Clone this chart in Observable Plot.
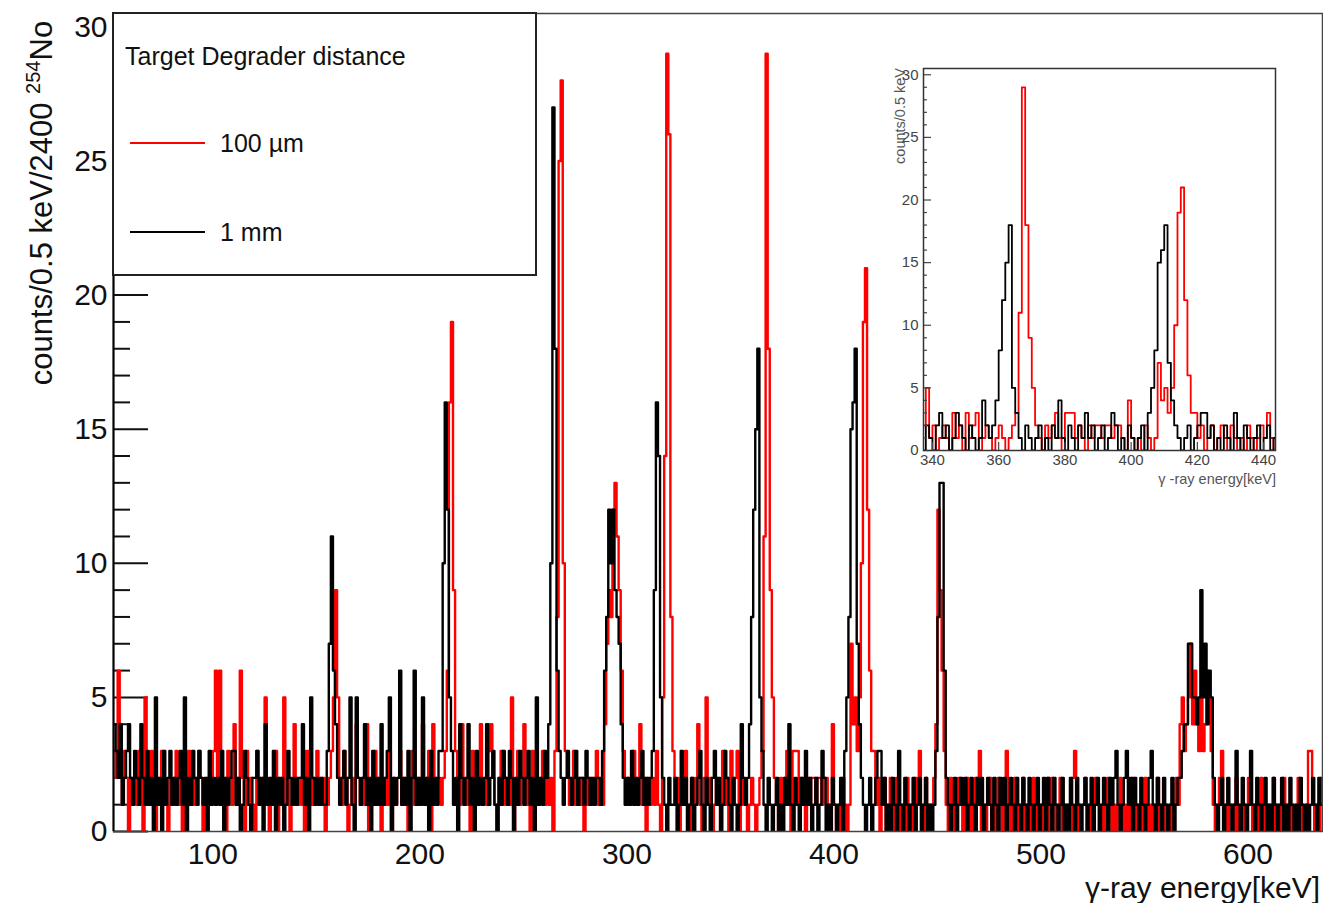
<!DOCTYPE html>
<html><head><meta charset="utf-8">
<script src="https://cdn.jsdelivr.net/npm/d3@7"></script>
<script src="https://cdn.jsdelivr.net/npm/@observablehq/plot@0.6"></script>
<style>
html,body{margin:0;padding:0;background:#fff;}
#chart{position:relative;width:1323px;height:903px;overflow:hidden;font-family:"Liberation Sans",Arial,sans-serif;}
#chart svg{position:absolute;}
</style></head><body><div id="chart"></div>
<script>
// ---- data (counts per bin, 1 keV bins starting at binStart) ----
const binStart = 52;
const binWidth = 1;
const xDomain = [52, 636];
const yDomain = [0, 30.5];
const xTicks = [100, 200, 300, 400, 500, 600];
const yTicks = [0, 5, 10, 15, 20, 25, 30];
const yMinorTicks = [1,2,3,4,6,7,8,9,11,12,13,14,16,17,18,19,21,22,23,24,26,27,28,29];
const insetXDomain = [337.3, 443.6];
const insetXTicks = [340, 360, 380, 400, 420, 440];
const seriesNames = ["100 \u00b5m", "1 mm"];
const seriesColors = ["#ff0000", "#000000"];
const legendTitle = "Target Degrader distance";
const xTitle = "\u03b3-ray energy[keV]";
const insetXTitle = "\u03b3 -ray energy[keV]";
const insetYTitle = "counts/0.5 keV";
const yTitleParts = ["counts/0.5 keV/2400\u00a0", "254", "No"];

// 100 µm target-degrader distance (red)
const red100um = [
/*52*/  3,2,6,2,1,3,2,0,2,1,
/*62*/  2,1,3,2,0,5,1,2,3,1,
/*72*/  0,2,1,3,2,1,0,2,1,2,
/*82*/  3,1,2,0,2,1,3,2,1,2,
/*92*/  1,3,2,0,1,2,1,2,3,6,
/*102*/ 2,6,1,2,0,3,2,1,4,2,
/*112*/ 1,6,2,0,3,1,2,1,0,3,
/*122*/ 2,1,2,5,1,0,2,1,3,0,
/*132*/ 2,2,5,1,2,0,1,4,2,1,
/*142*/ 2,1,0,3,2,1,2,1,3,2,
/*152*/ 1,2,0,1,2,3,5,9,5,2,
/*162*/ 1,3,2,0,1,2,1,4,2,1,
/*172*/ 2,1,4,0,2,1,3,1,2,0,
/*182*/ 1,2,1,3,0,2,1,2,3,1,
/*192*/ 2,1,0,2,3,1,2,1,2,4,
/*202*/ 1,2,3,0,4,1,2,2,1,2,
/*212*/ 3,6,16,19,9,3,2,1,4,2,
/*222*/ 1,2,0,3,2,1,2,4,1,2,
/*232*/ 1,3,4,2,1,0,2,3,1,2,
/*242*/ 2,1,5,0,2,3,1,2,4,1,
/*252*/ 2,0,3,1,2,1,2,3,1,2,
/*262*/ 1,2,0,3,8,25,28,10,3,2,
/*272*/ 1,2,3,1,2,1,2,0,2,1,
/*282*/ 2,1,2,3,1,2,1,4,7,9,
/*292*/ 8,12,13,11,9,6,3,1,2,1,
/*302*/ 2,3,1,2,4,1,2,0,2,1,
/*312*/ 2,1,3,1,0,5,14,29,26,8,
/*322*/ 3,1,2,0,1,2,3,1,0,2,
/*332*/ 1,2,4,1,0,2,5,1,2,0,
/*342*/ 1,2,1,0,3,1,2,0,3,1,
/*352*/ 2,3,0,1,2,1,0,1,2,1,
/*362*/ 0,1,2,3,11,29,18,9,5,2,
/*372*/ 1,0,2,1,2,3,1,0,3,3,
/*382*/ 3,1,2,1,0,2,1,2,2,1,
/*392*/ 2,2,1,2,2,1,0,4,1,0,
/*402*/ 1,0,2,1,0,1,7,4,5,3,
/*412*/ 5,10,19,21,12,6,3,3,1,2,
/*422*/ 0,1,2,0,1,2,1,0,2,1,
/*432*/ 0,1,0,2,1,0,1,2,1,3,
/*442*/ 1,0,2,1,0,1,2,4,12,9,
/*452*/ 6,3,1,0,2,1,0,1,2,1,
/*462*/ 0,1,2,0,1,0,2,1,3,0,
/*472*/ 1,0,1,2,0,1,0,2,1,0,
/*482*/ 1,3,0,1,0,2,1,0,1,2,
/*492*/ 0,1,0,1,2,0,1,0,1,0,
/*502*/ 1,2,0,2,1,0,1,2,0,1,
/*512*/ 0,1,0,2,3,0,1,0,1,2,
/*522*/ 1,0,1,0,2,1,0,1,0,1,
/*532*/ 2,1,0,1,0,1,2,0,1,0,
/*542*/ 1,0,2,1,0,1,0,1,2,1,
/*552*/ 0,1,0,1,2,0,1,0,1,0,
/*562*/ 1,0,1,2,1,4,5,3,4,5,
/*572*/ 7,4,6,4,3,5,3,4,6,5,
/*582*/ 3,1,0,1,2,3,0,1,0,1,
/*592*/ 1,0,2,0,1,0,1,0,2,1,
/*602*/ 0,1,0,1,2,0,1,0,1,0,
/*612*/ 2,0,1,0,1,2,0,1,0,1,
/*622*/ 0,1,2,0,1,0,1,3,3,1,
/*632*/ 0,1,0,2
];

// 1 mm target-degrader distance (black)
const black1mm = [
/*52*/  4,3,2,4,1,2,3,4,2,1,
/*62*/  3,2,1,4,2,1,3,1,2,0,
/*72*/  5,1,2,0,3,1,2,3,1,2,
/*82*/  1,2,3,1,5,0,2,1,3,2,
/*92*/  1,3,2,1,2,0,3,1,2,1,
/*102*/ 2,1,3,0,2,1,2,3,3,1,
/*112*/ 2,0,1,3,2,1,0,2,2,3,
/*122*/ 1,2,0,4,1,2,1,3,0,2,
/*132*/ 1,2,0,1,3,2,1,2,1,2,
/*142*/ 2,4,1,2,0,5,2,1,2,1,
/*152*/ 2,1,1,3,7,11,6,4,2,1,
/*162*/ 2,3,1,2,5,1,0,5,2,1,
/*172*/ 2,4,1,2,0,3,1,2,1,4,
/*182*/ 1,2,3,5,0,2,1,2,6,1,
/*192*/ 2,1,3,0,2,6,1,2,1,5,
/*202*/ 1,2,0,3,1,2,1,3,3,10,
/*212*/ 16,12,5,3,1,2,0,4,2,1,
/*222*/ 2,4,1,2,0,3,1,2,1,2,
/*232*/ 4,1,2,3,1,0,2,1,3,2,
/*242*/ 1,3,2,0,2,1,3,2,1,2,
/*252*/ 3,1,2,0,5,1,2,1,3,2,
/*262*/ 4,10,27,18,6,3,2,1,2,3,
/*272*/ 2,1,2,3,1,2,2,1,3,2,
/*282*/ 1,2,1,2,2,1,3,6,8,12,
/*292*/ 10,12,9,8,7,4,2,1,2,1,
/*302*/ 3,1,2,1,2,3,1,2,1,2,
/*312*/ 3,9,16,14,5,2,1,0,2,1,
/*322*/ 1,2,0,1,3,1,2,0,1,2,
/*332*/ 0,1,2,3,1,0,2,1,0,2,
/*342*/ 3,1,2,0,1,3,2,1,0,2,
/*352*/ 1,0,1,4,2,1,2,4,8,12,
/*362*/ 15,18,5,3,1,0,2,1,0,1,
/*372*/ 2,0,1,0,2,1,4,1,0,2,
/*382*/ 1,0,2,1,3,1,2,0,1,2,
/*392*/ 0,1,3,2,0,1,0,2,1,0,
/*402*/ 1,2,0,3,5,8,15,16,18,7,
/*412*/ 4,2,1,0,1,2,0,1,2,3,
/*422*/ 3,1,2,0,1,0,2,1,0,3,
/*432*/ 1,0,2,1,0,1,2,0,1,2,
/*442*/ 0,1,2,0,1,0,1,3,8,13,
/*452*/ 13,6,2,1,0,1,2,0,1,2,
/*462*/ 1,2,0,1,2,1,0,2,1,2,
/*472*/ 0,1,2,1,0,2,1,0,2,1,
/*482*/ 2,0,1,2,1,0,2,1,0,2,
/*492*/ 1,0,2,1,0,1,2,0,1,2,
/*502*/ 0,2,1,0,2,1,0,1,2,0,
/*512*/ 1,0,2,1,0,2,1,0,1,2,
/*522*/ 0,1,2,0,1,2,0,1,2,1,
/*532*/ 0,2,1,2,3,1,0,1,2,3,
/*542*/ 1,2,0,2,1,0,2,1,0,1,
/*552*/ 2,3,1,0,2,1,0,2,1,0,
/*562*/ 1,2,0,1,2,2,3,4,4,7,
/*572*/ 7,5,5,4,5,9,5,7,4,6,
/*582*/ 5,2,1,0,1,2,0,1,2,1,
/*592*/ 0,1,3,1,0,2,1,0,1,3,
/*602*/ 1,0,2,1,0,1,2,0,1,0,
/*612*/ 2,1,0,1,2,0,1,0,2,1,
/*622*/ 0,1,0,2,1,0,1,0,1,2,
/*632*/ 1,0,2,1
];

// ---- build step tables from the bin arrays ----
function toSteps(counts, lo, hi) {
  const pts = [];
  counts.forEach((c, i) => {
    const e = binStart + i * binWidth;
    if (e + binWidth > lo && e < hi) pts.push({e, c});
  });
  const last = pts[pts.length - 1];
  pts.push({e: last.e + binWidth, c: last.c});
  return pts;
}
const seriesCounts = [red100um, black1mm];
const mainSteps = seriesCounts.map(s => toSteps(s, xDomain[0], xDomain[1]));
const insetSteps = seriesCounts.map(s => toSteps(s, insetXDomain[0], insetXDomain[1]));

const FONT = '"Liberation Sans", Arial, Helvetica, sans-serif';
const chart = document.getElementById("chart");

// ---- main plot ----
const main = Plot.plot({
  width: 1323, height: 903,
  marginLeft: 113, marginRight: 1, marginTop: 13, marginBottom: 72,
  x: {domain: xDomain, label: null},
  y: {domain: yDomain, label: null},
  style: {fontFamily: FONT, background: "transparent", color: "#111", overflow: "visible"},
  marks: [
    Plot.axisY(yMinorTicks, {anchor: "left", tickSize: -17, strokeWidth: 2, tickFormat: () => "", label: null}),
    Plot.axisY(yTicks, {anchor: "left", tickSize: -35, strokeWidth: 2, tickFormat: () => "", label: null}),
    ...mainSteps.map((pts, i) => Plot.lineY(pts, {x: "e", y: "c", curve: "step-after", stroke: seriesColors[i], strokeWidth: 2.4, clip: true})),
    Plot.frame({stroke: "#444", strokeWidth: 1.5}),
    Plot.ruleX([xDomain[0]], {stroke: "#000", strokeWidth: 2}),
    Plot.axisY(yTicks, {anchor: "left", tickSize: 0, tickPadding: 6, fontSize: 30, label: null}),
    Plot.axisX(xTicks, {anchor: "bottom", tickSize: 0, tickPadding: 11, fontSize: 30, label: null})
  ]
});
main.style.left = "0px"; main.style.top = "0px";
chart.appendChild(main);

const svg = d3.select(main);
// legend box
const lg = svg.append("g").attr("font-family", FONT).attr("fill", "#111").attr("text-anchor", "start");
lg.append("rect").attr("x", 113).attr("y", 13).attr("width", 423).attr("height", 262)
  .attr("fill", "white").attr("stroke", "#222").attr("stroke-width", 2);
lg.append("text").attr("x", 125).attr("y", 65).attr("font-size", 25).attr("text-anchor", "start").text(legendTitle);
seriesNames.forEach((name, i) => {
  const yy = 143 + 89 * i;
  lg.append("line").attr("x1", 130).attr("x2", 205).attr("y1", yy).attr("y2", yy)
    .attr("stroke", seriesColors[i]).attr("stroke-width", 2);
  lg.append("text").attr("x", 220).attr("y", yy + 9).attr("font-size", 25).attr("text-anchor", "start").text(name);
});
// y title with superscript
const yt = svg.append("text").attr("transform", "translate(52,203) rotate(-90)")
  .attr("text-anchor", "middle").attr("font-family", FONT).attr("font-size", 31).attr("fill", "#111");
yt.append("tspan").text(yTitleParts[0]);
yt.append("tspan").attr("dy", -12).attr("font-size", 20).text(yTitleParts[1]);
yt.append("tspan").attr("dy", 12).text(yTitleParts[2]);
// x title
svg.append("text").attr("x", 1320).attr("y", 898).attr("text-anchor", "end")
  .attr("font-family", FONT).attr("font-size", 30).attr("fill", "#111").text(xTitle);

// ---- inset plot ----
const inset = Plot.plot({
  width: 400, height: 440,
  marginLeft: 43, marginRight: 5, marginTop: 13, marginBottom: 45,
  x: {domain: insetXDomain, label: null},
  y: {domain: yDomain, label: null},
  style: {fontFamily: FONT, background: "transparent", color: "#444", overflow: "visible"},
  marks: [
    Plot.frame({fill: "white", stroke: "none"}),
    ...insetSteps.map((pts, i) => Plot.lineY(pts, {x: "e", y: "c", curve: "step-after", stroke: seriesColors[i], strokeWidth: 1.8, clip: true})),
    Plot.axisY(yMinorTicks, {anchor: "left", tickSize: -4, strokeWidth: 1.2, tickFormat: () => "", label: null}),
    Plot.axisY(yTicks, {anchor: "left", tickSize: -8, strokeWidth: 1.2, tickFormat: () => "", label: null}),
    Plot.axisX(insetXTicks, {anchor: "bottom", tickSize: -8, strokeWidth: 1.2, tickFormat: () => "", label: null}),
    Plot.frame({stroke: "#333", strokeWidth: 1.5}),
    Plot.axisY(yTicks, {anchor: "left", tickSize: 0, tickPadding: 5, fontSize: 15, label: null}),
    Plot.axisX(insetXTicks, {anchor: "bottom", tickSize: 0, tickPadding: 4, fontSize: 15, label: null})
  ]
});
inset.style.left = "880px"; inset.style.top = "55px";
chart.appendChild(inset);
const isvg = d3.select(inset);
isvg.append("text").attr("transform", "translate(25,13) rotate(-90)").attr("text-anchor", "end")
  .attr("font-family", FONT).attr("font-size", 14.5).attr("fill", "#555").text(insetYTitle);
isvg.append("text").attr("x", 396).attr("y", 429).attr("text-anchor", "end")
  .attr("font-family", FONT).attr("font-size", 14.5).attr("fill", "#555").text(insetXTitle);
</script></body></html>
